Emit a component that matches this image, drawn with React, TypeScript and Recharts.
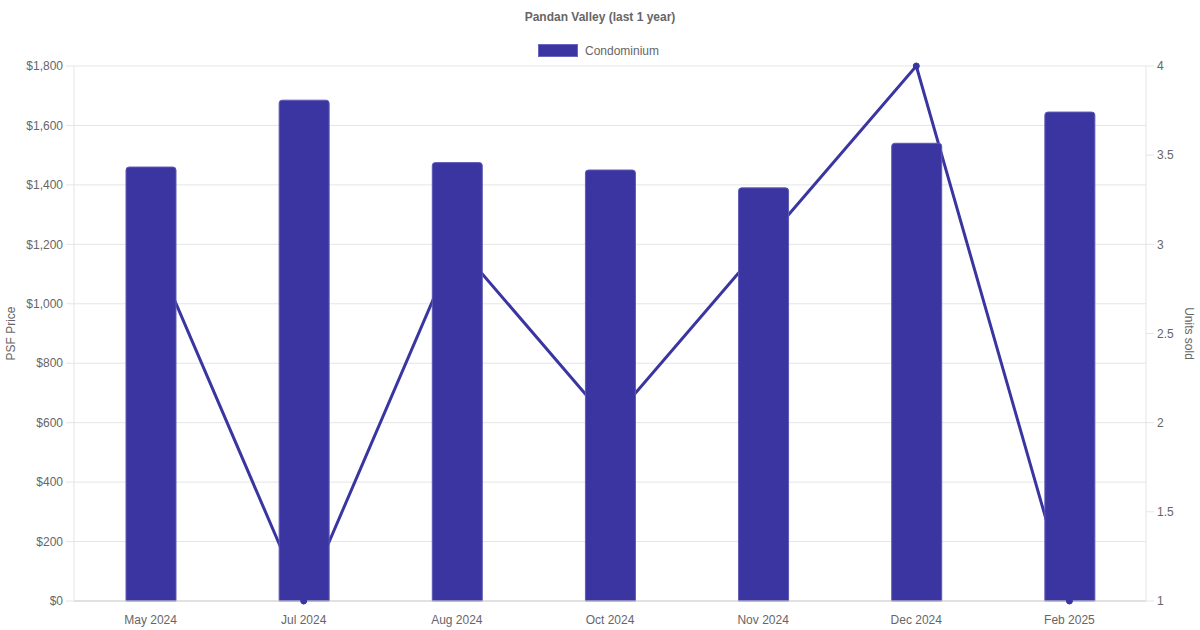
import React from "react";
import { ComposedChart, Bar, Line, XAxis, YAxis, CartesianGrid } from "recharts";

const months = ["May 2024", "Jul 2024", "Aug 2024", "Oct 2024", "Nov 2024", "Dec 2024", "Feb 2025"];
const psfPrice = [1460, 1685, 1475, 1450, 1390, 1540, 1645];
const unitsSold = [3, 1, 3, 2, 3, 4, 1];
const psfTicks = [0, 200, 400, 600, 800, 1000, 1200, 1400, 1600, 1800];
const unitTicks = [1, 1.5, 2, 2.5, 3, 3.5, 4];

const data = months.map((m, i) => ({ month: m, psf: psfPrice[i], units: unitsSold[i] }));

const FONT = '"Liberation Sans", Arial, Helvetica, sans-serif';
const BAR = "#3a35a0";
const TEXT = "#666666";
const GRID = "#e5e5e5";

const fmtMoney = (v: number) => "$" + v.toLocaleString("en-US");

export default function App() {
  return (
    <div style={{ position: "absolute", left: 0, top: 0, width: 1200, height: 630, fontFamily: FONT, background: "#fff" }}>
      <div style={{ position: "absolute", top: 9, left: 0, width: 1200, textAlign: "center", fontSize: 12, fontWeight: "bold", color: TEXT, lineHeight: "16px" }}>
        Pandan Valley (last 1 year)
      </div>
      <div style={{ position: "absolute", top: 44, left: 538, display: "flex", alignItems: "center", fontSize: 12, color: TEXT }}>
        <div style={{ width: 38, height: 11, background: BAR, border: "1px solid #6b67c0" }} />
        <span style={{ marginLeft: 7, lineHeight: "13px", position: "relative", top: 1 }}>Condominium</span>
      </div>
      <ComposedChart
        width={1200}
        height={630}
        data={data}
        margin={{ top: 66, right: 0, bottom: 0, left: 0 }}
        style={{ fontFamily: FONT }}
      >
        <CartesianGrid horizontal={true} vertical={false} stroke={GRID} strokeWidth={1} yAxisId="left" />
        <XAxis
          dataKey="month"
          height={29}
          tickLine={false}
          axisLine={{ stroke: "#d0d0d0" }}
          tickSize={8}
          tickMargin={6}
          tick={{ fill: TEXT, fontSize: 12 }}
          interval={0}
        />
        <YAxis
          yAxisId="left"
          orientation="left"
          width={74}
          domain={[0, 1800]}
          ticks={psfTicks}
          tickFormatter={fmtMoney}
          tickSize={8}
          tickMargin={3}
          tickLine={{ stroke: GRID }}
          axisLine={{ stroke: GRID }}
          tick={{ fill: TEXT, fontSize: 12 }}
          label={{ value: "PSF Price", angle: -90, position: "insideLeft", offset: 11, style: { textAnchor: "middle", fill: TEXT, fontSize: 12 } }}
        />
        <YAxis
          yAxisId="right"
          orientation="right"
          width={54}
          domain={[1, 4]}
          ticks={unitTicks}
          tickSize={8}
          tickMargin={3}
          tickLine={{ stroke: GRID }}
          axisLine={{ stroke: GRID }}
          tick={{ fill: TEXT, fontSize: 12 }}
          label={{ value: "Units sold", angle: 90, position: "insideRight", offset: 11, style: { textAnchor: "middle", fill: TEXT, fontSize: 12 } }}
        />
        <Line
          yAxisId="right"
          dataKey="units"
          type="linear"
          stroke={BAR}
          strokeWidth={3}
          dot={{ r: 3, fill: BAR, stroke: BAR, strokeWidth: 1 }}
          activeDot={false}
          isAnimationActive={false}
          zIndex={250}
        />
        <Bar
          yAxisId="left"
          dataKey="psf"
          barSize={50}
          fill={BAR}
          stroke="#5e5ab5"
          strokeWidth={1}
          radius={[3, 3, 0, 0]}
          isAnimationActive={false}
        />
      </ComposedChart>
    </div>
  );
}
